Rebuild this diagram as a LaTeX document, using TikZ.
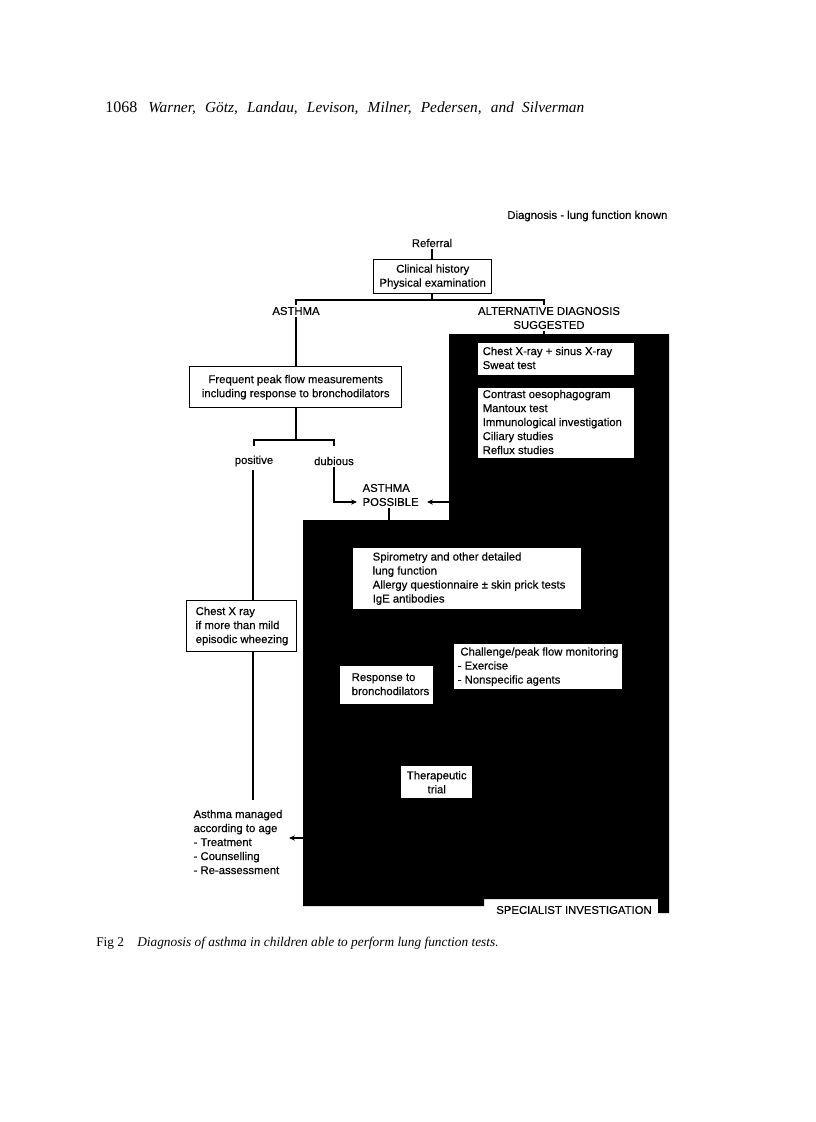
\documentclass[tikz,border=0pt]{standalone}
\usepackage{fontspec}
\setmainfont{Liberation Serif}
\newfontfamily\hv[FakeBold=0.25]{Liberation Sans}
\usetikzlibrary{arrows.meta}
\newcommand\boxtext[3]{\makebox[#1][l]{\hspace*{#2}\begin{tabular}{@{}l@{}}#3\end{tabular}}}
\begin{document}
\begin{tikzpicture}[x=0.75pt,y=-0.75pt,
  lbl/.style={font=\hv\fontsize{8.5}{10.5}\selectfont, inner sep=1pt},
  box/.style={draw, line width=1.1pt, fill=white, font=\hv\fontsize{8.5}{10.5}\selectfont, inner ysep=0pt, anchor=north west},
  lbox/.style={box, inner xsep=0pt},
  conn/.style={line width=1.1pt},
  arr/.style={conn, -{Stealth[length=4.5pt,width=4pt]}}]
\useasboundingbox (0,0) rectangle (816,1122);
\fill[white] (0,0) rectangle (816,1122);
% header and caption
\node[anchor=base west, inner sep=0, font=\fontsize{12}{14}\selectfont] (pg) at (105,112) {1068};
\node[anchor=base west, inner sep=0, font=\fontsize{11.5}{14}\selectfont\itshape] (auth) at (148,112) {\makebox[327pt][s]{Warner, Götz, Landau, Levison, Milner, Pedersen, and Silverman}};
\node[anchor=base west, inner sep=0, font=\fontsize{10}{12}\selectfont] (fig) at (96,946) {Fig 2};
\node[anchor=base west, inner sep=0, font=\fontsize{10}{12}\selectfont\itshape] (cap) at (137,946) {Diagnosis of asthma in children able to perform lung function tests.};
% black specialist region
\fill[black] (449,334) -- (669,334) -- (669,913) -- (658,913) -- (658,899) -- (484,899) -- (484,906) -- (303,906) -- (303,520) -- (449,520) -- cycle;
% labels
\node[lbl, anchor=east] (title) at (669,216) {Diagnosis - lung function known};
\node[lbl] (ref) at (432,243) {Referral};
\node[lbl] (asth) at (296,311) {ASTHMA};
\node[lbl, align=center] (alt) at (549,318) {ALTERNATIVE DIAGNOSIS\\SUGGESTED};
\node[lbl] (pos) at (254,461) {positive};
\node[lbl] (dub) at (334,461) {dubious};
\node[lbl, align=left, anchor=west] (poss) at (361,495) {ASTHMA\\POSSIBLE};
\node[lbl, align=left, anchor=west] (mgd) at (192,842) {Asthma managed\\according to age\\- Treatment\\- Counselling\\- Re-assessment};
\node[lbl] (spec) at (574,910) {SPECIALIST INVESTIGATION};
% boxes
\node[box, align=center, minimum width=88.5pt, minimum height=25.5pt] (clin) at (373,259) {Clinical history\\Physical examination};
\node[box, align=center, minimum width=159pt, minimum height=30.75pt] (freq) at (189,366) {Frequent peak flow measurements\\including response to bronchodilators};
\node[lbox, minimum height=24.75pt] (cxr) at (477,342) {\boxtext{117.75pt}{3.75pt}{Chest X-ray + sinus X-ray\\Sweat test}};
\node[lbox, minimum height=53.25pt] (contr) at (477,387) {\boxtext{117.75pt}{3.75pt}{Contrast oesophagogram\\Mantoux test\\Immunological investigation\\Ciliary studies\\Reflux studies}};
\node[lbox, minimum height=46.5pt] (spiro) at (352,547) {\boxtext{171.75pt}{15pt}{Spirometry and other detailed\\lung function\\Allergy questionnaire \textpm{} skin prick tests\\IgE antibodies}};
\node[lbox, minimum height=38.25pt] (chl) at (186,600) {\boxtext{82.5pt}{6.75pt}{Chest X ray\\if more than mild\\episodic wheezing}};
\node[lbox, minimum height=34.5pt] (chall) at (453,643) {\boxtext{126.75pt}{3pt}{\hspace*{2pt}Challenge/peak flow monitoring\\- Exercise\\- Nonspecific agents}};
\node[lbox, minimum height=29.25pt] (resp) at (339,665) {\boxtext{70.5pt}{9pt}{Response to\\bronchodilators}};
\node[box, align=center, minimum width=54pt, minimum height=24.75pt] (ther) at (400,765) {Therapeutic\\trial};
% connectors
\draw[conn] (ref.south) -- (ref.south |- clin.north);
\coordinate (j1) at (432,300);
\coordinate (t1) at (296,305);
\coordinate (t2) at (544,305);
\draw[conn] (j1 |- clin.south) -- (j1);
\draw[conn] (t1) |- (j1) -| (t2);
\coordinate (s1) at (544,334);
\draw[conn] (s1 |- alt.south) -- (s1);
\draw[conn] (asth.south) -- (asth.south |- freq.north);
\coordinate (j2) at (296,440);
\coordinate (t3) at (254,446);
\coordinate (t4) at (334,446);
\draw[conn] (j2 |- freq.south) -- (j2);
\draw[conn] (t3) |- (j2) -| (t4);
\coordinate (p1) at (253,470);
\draw[conn] (p1) -- (p1 |- chl.north);
\coordinate (e1) at (253,800);
\draw[conn] (e1 |- chl.south) -- (e1);
\coordinate (a1) at (357,502);
\draw[arr] (dub.south) |- (a1);
\coordinate (a2) at (449,502);
\coordinate (a3) at (427,502);
\draw[arr] (a2) -- (a3);
\coordinate (b1) at (389,520);
\draw[conn] (b1 |- poss.south) -- (b1);
\coordinate (c1) at (303,838);
\coordinate (c2) at (289,838);
\draw[arr] (c1) -- (c2);
\end{tikzpicture}
\end{document}
